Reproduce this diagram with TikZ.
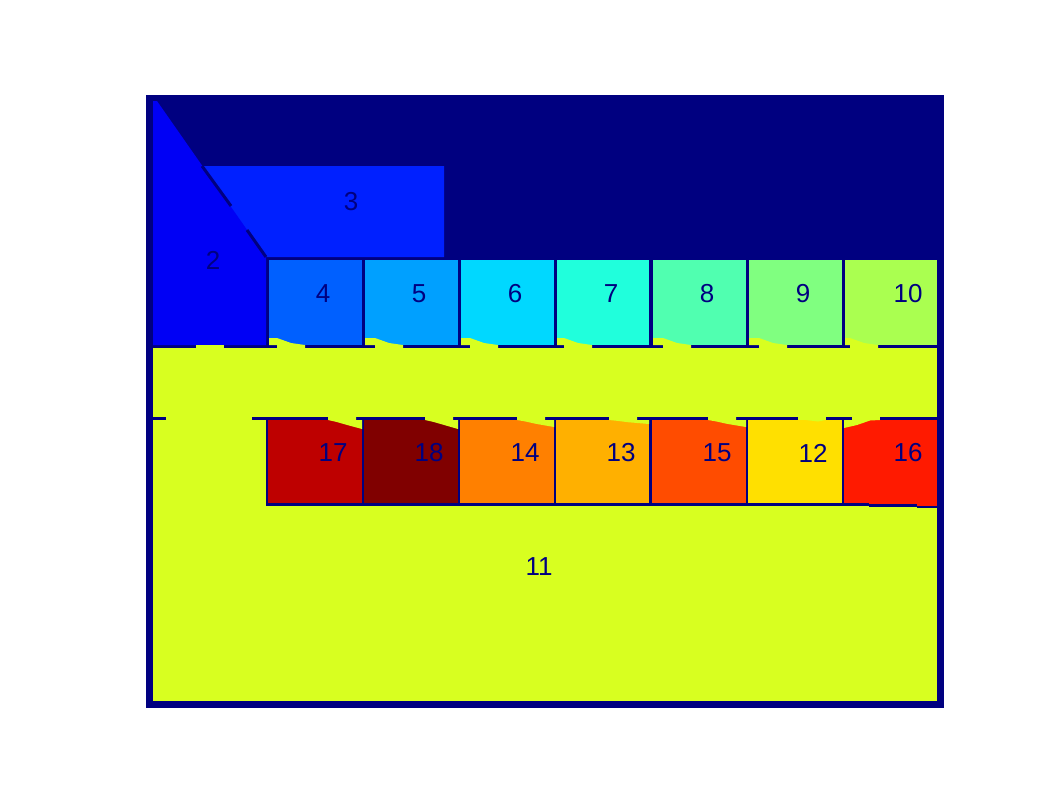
\documentclass[tikz,border=0pt]{standalone}
\usepackage{fontspec}
\setmainfont{Liberation Sans}
\usepackage{tikz}
\usetikzlibrary{arrows}

\definecolor{navy}{RGB}{0,0,128}
\definecolor{c2}{RGB}{0,0,245}
\definecolor{c3}{RGB}{0,32,255}
\definecolor{c4}{RGB}{0,96,255}
\definecolor{c5}{RGB}{0,160,255}
\definecolor{c6}{RGB}{0,216,255}
\definecolor{c7}{RGB}{32,255,220}
\definecolor{c8}{RGB}{80,255,176}
\definecolor{c9}{RGB}{128,255,128}
\definecolor{c10}{RGB}{170,255,80}
\definecolor{c11}{RGB}{216,255,32}
\definecolor{c12}{RGB}{255,224,0}
\definecolor{c13}{RGB}{255,176,0}
\definecolor{c14}{RGB}{255,128,0}
\definecolor{c15}{RGB}{255,76,0}
\definecolor{c16}{RGB}{255,26,0}
\definecolor{c17}{RGB}{190,0,0}
\definecolor{c18}{RGB}{128,0,0}

\begin{document}
\begin{tikzpicture}[x=1pt,y=-1pt]
		\tikzstyle{lbl}=[text=navy,font=\fontsize{26}{26}\selectfont,inner sep=0pt]
		\tikzstyle{wall}=[navy,line width=3pt]

		\useasboundingbox (0,0) rectangle (1062,796);
		\fill[white] (0,0) rectangle (1062,796);
		\fill[navy] (146,95) rectangle (944,708);

		% corridor and hall (11)
		\fill[c11] (153,348) rectangle (937,701);

		% 3 and 2
		\fill[c3] (199,166) -- (444,166) -- (444,257) -- (266,257) -- cycle;
		\fill[c2] (153,101) -- (157,101) -- (266,257) -- (266,345) -- (153,345) -- cycle;
		\draw[wall] (202,166) -- (231,206);
		\draw[wall] (247,230) -- (266,257);

		% upper row
		\fill[c4] (269,260) rectangle (362,345);
		\fill[c5] (365,260) rectangle (458,345);
		\fill[c6] (461,260) rectangle (554,345);
		\fill[c7] (557,260) rectangle (649,345);
		\fill[c8] (653,260) rectangle (746,345);
		\fill[c9] (749,260) rectangle (842,345);
		\fill[c10] (845,260) rectangle (937,345);

		\fill[c11] (196,345) rectangle (224,348);
		\foreach \l/\a/\b in {269/277/305,365/375/403,461/470/498,557/564/592,653/663/691,749/759/787,845/850/878}
			\fill[c11] (\l,345) -- (\l,338) -- (\a,338) -- ({\a+14},343) -- (\b,345) -- (\b,348) -- (\a,348) -- (\a,345) -- cycle;

		% lower row
		\fill[navy] (153,417) rectangle (166,420);
		\fill[navy] (252,417) rectangle (266,420);
		\fill[navy] (266,417) rectangle (937,506);
		\fill[c17] (268,420) rectangle (362,503);
		\fill[c18] (364,420) rectangle (458,503);
		\fill[c14] (460,420) rectangle (554,503);
		\fill[c13] (556,420) rectangle (649,503);
		\fill[c15] (652,420) rectangle (746,503);
		\fill[c12] (748,420) rectangle (842,503);
		\fill[c16] (844,420) rectangle (937,506);
		\fill[navy] (844,503) rectangle (869,506);
		\fill[navy] (869,504) rectangle (917,507);
		\fill[navy] (917,506) rectangle (937,508);

		\foreach \a/\r/\d in {328/362/429,425/458/429,517/554/427,609/649/424,708/746/427}
			\fill[c11] (\a,417) -- ({\a+28},417) -- ({\a+28},420) -- (\r,420) -- (\r,\d) -- ({\a+19},{420+0.55*(\d-420)}) -- ({\a+8},{420+0.2*(\d-420)}) -- (\a,420) -- cycle;
		\fill[c11] (798,417) rectangle (826,420);
		\fill[c11] (806,420) -- (826,420) -- (818,421.5) -- cycle;
		\fill[c11] (852,417) rectangle (880,420);
		\fill[c11] (844,420) -- (880,420) -- (870,420.5) -- (857,425) -- (844,428) -- cycle;

		% labels
		\node[lbl] (r2) at (213,260) {2};
		\node[lbl] (r3) at (351,202) {3};
		\node[lbl] (r4) at (323,294) {4};
		\node[lbl] (r5) at (419,294) {5};
		\node[lbl] (r6) at (515,294) {6};
		\node[lbl] (r7) at (611,294) {7};
		\node[lbl] (r8) at (707,294) {8};
		\node[lbl] (r9) at (803,294) {9};
		\node[lbl] (r10) at (908,294) {10};
		\node[lbl] (r11) at (539,567) {11};
		\node[lbl] (r17) at (333,453) {17};
		\node[lbl] (r18) at (429,453) {18};
		\node[lbl] (r14) at (525,453) {14};
		\node[lbl] (r13) at (621,453) {13};
		\node[lbl] (r15) at (717,453) {15};
		\node[lbl] (r12) at (813,453) {12};
		\node[lbl] (r16) at (908,453) {16};
	\end{tikzpicture}
\end{document}
